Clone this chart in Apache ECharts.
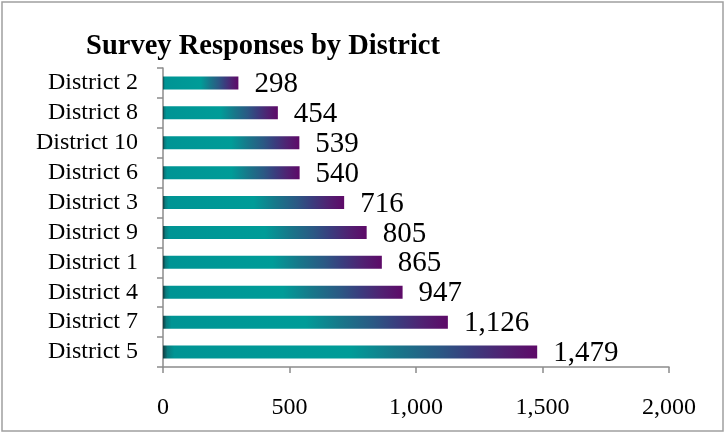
<!DOCTYPE html>
<html>
<head>
<meta charset="utf-8">
<script src="https://cdn.jsdelivr.net/npm/echarts@6/dist/echarts.min.js"></script>
<style>
html,body{margin:0;padding:0;background:#fff;}
#chart{width:726px;height:434px;}
</style>
</head>
<body>
<div id="chart"></div>
<script>
var titleText = 'Survey Responses by District';
var categories = ['District 2','District 8','District 10','District 6','District 3','District 9','District 1','District 4','District 7','District 5'];
var values = [298, 454, 539, 540, 716, 805, 865, 947, 1126, 1479];
var xTicks = [0, 500, 1000, 1500, 2000];

var chart = echarts.init(document.getElementById('chart'), null, {renderer:'canvas'});
var serif = "'Liberation Serif', 'DejaVu Serif', serif";
var grad = new echarts.graphic.LinearGradient(0,0,1,0,[
  {offset:0, color:'#123c40'},
  {offset:0.012, color:'#0a7c7e'},
  {offset:0.03, color:'#009494'},
  {offset:0.5, color:'#009c98'},
  {offset:0.62, color:'#17788a'},
  {offset:0.74, color:'#2b5884'},
  {offset:0.82, color:'#3a3d7e'},
  {offset:0.91, color:'#502272'},
  {offset:1, color:'#5e0a68'}
]);
chart.setOption({
  animation:false,
  backgroundColor:'#fff',
  title:{
    text:titleText,
    left:258, top:27, textAlign:'center',
    textStyle:{fontFamily:serif, fontWeight:'bold', fontSize:28.5, color:'#000'}
  },
  grid:{left:163, right:57, top:68, bottom:67, containLabel:false},
  xAxis:{
    type:'value', min:xTicks[0], max:xTicks[xTicks.length-1], interval:500,
    axisLine:{show:true, lineStyle:{color:'#8c8c8c', width:1.5}},
    axisTick:{show:true, length:6, lineStyle:{color:'#8c8c8c', width:1.5}},
    splitLine:{show:false},
    axisLabel:{fontFamily:serif, fontSize:24, color:'#000', margin:29,
      formatter:function(v){return v.toLocaleString('en-US');}}
  },
  yAxis:{
    type:'category', data:categories, inverse:true,
    axisLine:{show:true, lineStyle:{color:'#8c8c8c', width:1.5}},
    axisTick:{show:true, length:6, interval:0, lineStyle:{color:'#8c8c8c', width:1.5}},
    axisLabel:{fontFamily:serif, fontSize:24, color:'#000', margin:25, interval:0}
  },
  series:[{
    type:'bar', data:values, barWidth:13,
    itemStyle:{color:grad},
    label:{show:true, position:'right', distance:16, offset:[0,1.5], fontFamily:serif, fontSize:29, color:'#000',
      formatter:function(p){return p.value.toLocaleString('en-US');}}
  }],
  graphic:[{
    type:'rect', shape:{x:2, y:2, width:721, height:429}, silent:true,
    style:{fill:'none', stroke:'#a0a0a0', lineWidth:1.5}
  }]
});
</script>
</body>
</html>
